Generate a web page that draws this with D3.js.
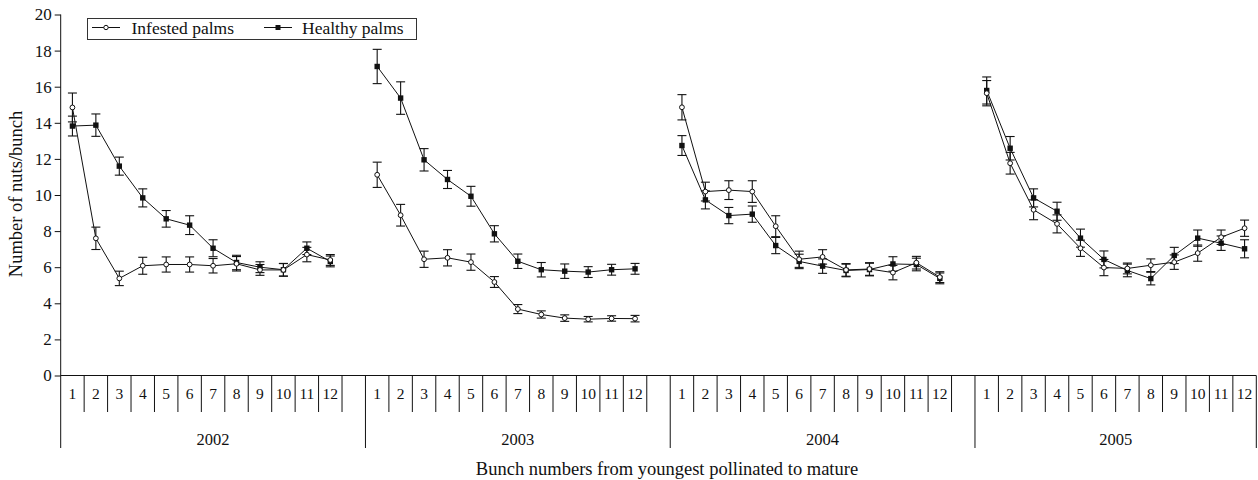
<!DOCTYPE html>
<html>
<head>
<meta charset="utf-8">
<script src="https://cdn.jsdelivr.net/npm/d3@7"></script>
<style>
  body { margin: 0; background: #fff; }
  svg { display: block; }
  text { font-family: "Liberation Serif", "Times New Roman", serif; fill: #111; }
</style>
</head>
<body>
<svg id="chart" width="1258" height="480"></svg>
<script>
// ---- data ----
const years = ["2002", "2003", "2004", "2005"];
const bunchLabels = ["1","2","3","4","5","6","7","8","9","10","11","12"];
const yTicks = [0, 2, 4, 6, 8, 10, 12, 14, 16, 18, 20];
const seriesNames = ["Infested palms", "Healthy palms"];

const infested2002 = [14.85, 7.6, 5.38, 6.08, 6.15, 6.15, 6.08, 6.19, 5.85, 5.85, 6.7, 6.4];
const infestedErr2002 = [0.8, 0.62, 0.4, 0.47, 0.42, 0.42, 0.4, 0.4, 0.3, 0.35, 0.4, 0.3];
const healthy2002 = [13.82, 13.87, 11.6, 9.84, 8.68, 8.33, 7.05, 6.26, 6.0, 5.86, 7.05, 6.32];
const healthyErr2002 = [0.55, 0.62, 0.5, 0.5, 0.46, 0.52, 0.47, 0.4, 0.3, 0.35, 0.35, 0.3];

const infested2003 = [11.12, 8.88, 6.44, 6.52, 6.28, 5.18, 3.68, 3.38, 3.18, 3.12, 3.16, 3.15];
const infestedErr2003 = [0.7, 0.6, 0.45, 0.45, 0.45, 0.3, 0.25, 0.2, 0.18, 0.15, 0.15, 0.18];
const healthy2003 = [17.12, 15.37, 11.95, 10.86, 9.93, 7.85, 6.33, 5.86, 5.78, 5.73, 5.86, 5.91];
const healthyErr2003 = [0.95, 0.9, 0.62, 0.5, 0.55, 0.45, 0.4, 0.4, 0.4, 0.3, 0.3, 0.3];

const infested2004 = [14.86, 10.19, 10.27, 10.19, 8.27, 6.44, 6.57, 5.85, 5.9, 5.7, 6.25, 5.45];
const infestedErr2004 = [0.7, 0.52, 0.52, 0.6, 0.58, 0.45, 0.4, 0.35, 0.35, 0.4, 0.35, 0.3];
const healthy2004 = [12.74, 9.73, 8.86, 8.94, 7.2, 6.32, 6.06, 5.82, 5.87, 6.18, 6.15, 5.38];
const healthyErr2004 = [0.55, 0.5, 0.45, 0.45, 0.45, 0.4, 0.4, 0.35, 0.35, 0.4, 0.35, 0.3];

const infested2005 = [15.64, 11.76, 9.18, 8.4, 7.05, 5.98, 5.93, 6.11, 6.28, 6.78, 7.66, 8.16];
const infestedErr2005 = [0.7, 0.6, 0.55, 0.5, 0.45, 0.45, 0.3, 0.35, 0.4, 0.45, 0.4, 0.45];
const healthy2005 = [15.79, 12.59, 9.84, 9.1, 7.61, 6.43, 5.82, 5.37, 6.65, 7.61, 7.33, 7.02];
const healthyErr2005 = [0.75, 0.65, 0.5, 0.5, 0.5, 0.47, 0.35, 0.35, 0.45, 0.45, 0.4, 0.5];

// assemble (per year) from the named arrays
const infestedMeans = [infested2002, infested2003, infested2004, infested2005];
const infestedErrs = [infestedErr2002, infestedErr2003, infestedErr2004, infestedErr2005];
const healthyMeans = [healthy2002, healthy2003, healthy2004, healthy2005];
const healthyErrs = [healthyErr2002, healthyErr2003, healthyErr2004, healthyErr2005];

// ---- layout ----
const svg = d3.select("#chart");
const x0 = 60.7, x1 = 1256.3;
const yTop = 14.5, yBottom = 375.5;

const slots = [];
years.forEach((yr, i) => {
  bunchLabels.forEach(b => slots.push(yr + "-" + b));
  if (i < years.length - 1) slots.push(yr + "-gap");
});

const x = d3.scaleBand().domain(slots).range([x0, x1]).paddingInner(0).paddingOuter(0);
const y = d3.scaleLinear().domain([0, 20]).range([yBottom, yTop]);

// y axis
const yAxis = d3.axisLeft(y).tickValues(yTicks).tickSize(6).tickPadding(3).tickFormat(d3.format("d"));
const gy = svg.append("g").attr("transform", `translate(${x0},0)`).call(yAxis);
gy.select(".domain").remove();
gy.selectAll(".tick line").attr("stroke", "#111");
gy.selectAll(".tick text").attr("font-size", 17).attr("font-family", "Liberation Serif").attr("fill", "#111");
svg.append("line").attr("x1", x0).attr("x2", x0).attr("y1", yTop).attr("y2", 448).attr("stroke", "#111");

// x axis baseline
svg.append("line").attr("x1", x0).attr("x2", x1).attr("y1", yBottom).attr("y2", yBottom).attr("stroke", "#111");

// x category dividers
const bw = x.bandwidth();
slots.forEach((s, i) => {
  const isYearStart = s.endsWith("-1");
  if (i === 0) return;
  svg.append("line")
    .attr("x1", x(s)).attr("x2", x(s))
    .attr("y1", yBottom).attr("y2", isYearStart ? 448 : 412)
    .attr("stroke", "#111");
});
svg.append("line").attr("x1", x1).attr("x2", x1).attr("y1", yBottom).attr("y2", 448).attr("stroke", "#111");

// bunch number labels
years.forEach(yr => {
  bunchLabels.forEach(b => {
    svg.append("text")
      .attr("x", x(yr + "-" + b) + bw / 2)
      .attr("y", 398.5)
      .attr("text-anchor", "middle")
      .attr("font-size", 15.5)
      .text(b);
  });
});

// year labels
years.forEach((yr, i) => {
  const start = x(yr + "-1");
  const end = i < years.length - 1 ? x(years[i + 1] + "-1") : x1;
  svg.append("text")
    .attr("x", (start + end) / 2)
    .attr("y", 444.5)
    .attr("text-anchor", "middle")
    .attr("font-size", 16.5)
    .text(yr);
});

// axis titles
svg.append("text")
  .attr("x", 667)
  .attr("y", 475)
  .attr("text-anchor", "middle")
  .attr("font-size", 18.5)
  .text("Bunch numbers from youngest pollinated to mature");

svg.append("text")
  .attr("transform", `translate(22,${(yTop + yBottom) / 2 - 1}) rotate(-90)`)
  .attr("text-anchor", "middle")
  .attr("font-size", 18.5)
  .text("Number of nuts/bunch");

// ---- series ----
const line = d3.line().x(d => d.x).y(d => y(d.v));

function drawSeries(means, errs, kind) {
  years.forEach((yr, i) => {
    const pts = means[i].map((v, j) => ({
      x: x(yr + "-" + bunchLabels[j]) + bw / 2,
      v: v,
      e: errs[i][j]
    }));
    const g = svg.append("g");
    // error bars
    pts.forEach(p => {
      g.append("line").attr("x1", p.x).attr("x2", p.x)
        .attr("y1", y(p.v - p.e)).attr("y2", y(p.v + p.e))
        .attr("stroke", "#111").attr("stroke-width", 1.1);
      [p.v - p.e, p.v + p.e].forEach(ev => {
        g.append("line").attr("x1", p.x - 4.5).attr("x2", p.x + 4.5)
          .attr("y1", y(ev)).attr("y2", y(ev))
          .attr("stroke", "#111").attr("stroke-width", 1.1);
      });
    });
    g.append("path").datum(pts).attr("d", line)
      .attr("fill", "none").attr("stroke", "#111").attr("stroke-width", 1);
    if (kind === "circle") {
      g.selectAll("circle").data(pts).join("circle")
        .attr("cx", d => d.x).attr("cy", d => y(d.v)).attr("r", 2.4)
        .attr("fill", "#fff").attr("stroke", "#111").attr("stroke-width", 1);
    } else {
      g.selectAll("rect").data(pts).join("rect")
        .attr("x", d => d.x - 2.7).attr("y", d => y(d.v) - 2.7)
        .attr("width", 5.4).attr("height", 5.4).attr("fill", "#111");
    }
  });
}
drawSeries(healthyMeans, healthyErrs, "square");
drawSeries(infestedMeans, infestedErrs, "circle");

// ---- legend ----
const lg = svg.append("g");
lg.append("rect").attr("x", 87.5).attr("y", 18.5).attr("width", 329).attr("height", 21)
  .attr("fill", "#fff").attr("stroke", "#333").attr("stroke-width", 1);
const legendItems = [
  { name: seriesNames[0], kind: "circle", lx: 92, tx: 131.5 },
  { name: seriesNames[1], kind: "square", lx: 264, tx: 302 }
];
legendItems.forEach(it => {
  lg.append("line").attr("x1", it.lx).attr("x2", it.lx + 28).attr("y1", 27.5).attr("y2", 27.5)
    .attr("stroke", "#111");
  if (it.kind === "circle") {
    lg.append("circle").attr("cx", it.lx + 14).attr("cy", 27.5).attr("r", 2.2)
      .attr("fill", "#fff").attr("stroke", "#111");
  } else {
    lg.append("rect").attr("x", it.lx + 11.5).attr("y", 25).attr("width", 5).attr("height", 5).attr("fill", "#111");
  }
  lg.append("text").attr("x", it.tx).attr("y", 33.5).attr("font-size", 17.5).text(it.name);
});
</script>
</body>
</html>
